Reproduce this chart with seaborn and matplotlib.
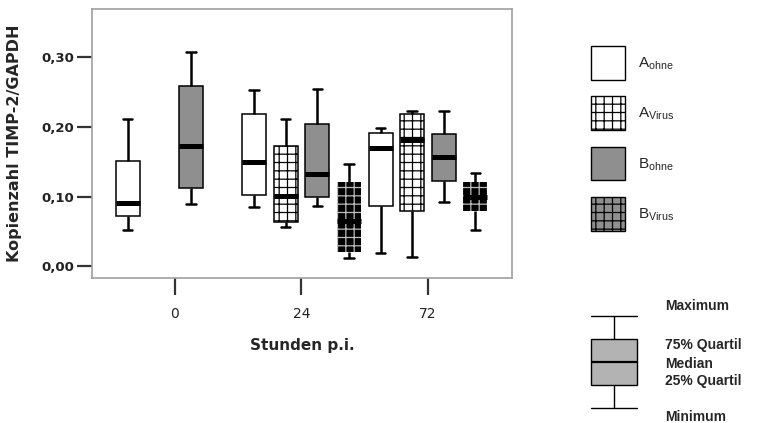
import numpy as np
import pandas as pd
import matplotlib.pyplot as plt
import seaborn as sns
from matplotlib.patches import Patch

# Werte je Box: Minimum, 25% Quartil, Median, 75% Quartil, Maximum
stunden = ['0', '24', '72']
gruppen = ['A_ohne', 'A_virus', 'B_ohne', 'B_virus']

a_ohne = {'0': [0.053, 0.072, 0.091, 0.151, 0.212],
          '24': [0.085, 0.102, 0.150, 0.218, 0.253],
          '72': [0.020, 0.086, 0.170, 0.191, 0.199]}
a_virus = {'24': [0.057, 0.064, 0.101, 0.172, 0.212],
           '72': [0.013, 0.080, 0.181, 0.219, 0.223]}
b_ohne = {'0': [0.090, 0.113, 0.173, 0.259, 0.308],
          '24': [0.087, 0.099, 0.133, 0.204, 0.254],
          '72': [0.093, 0.123, 0.157, 0.190, 0.223]}
b_virus = {'24': [0.012, 0.021, 0.065, 0.121, 0.147],
           '72': [0.052, 0.080, 0.100, 0.121, 0.134]}

y_ticks = [0.0, 0.1, 0.2, 0.3]
y_labels = ['0,00', '0,10', '0,20', '0,30']
legend_labels = [r'A$_{\mathregular{ohne}}$', r'A$_{\mathregular{Virus}}$',
                 r'B$_{\mathregular{ohne}}$', r'B$_{\mathregular{Virus}}$']
erklaerung = [0, 1, 2, 3, 4]
erklaerung_text = ['Maximum', '75% Quartil', 'Median', '25% Quartil', 'Minimum']

farben = {'A_ohne': 'white', 'A_virus': 'white', 'B_ohne': '#8f8f8f', 'B_virus': 'black'}

rows = []
for name, werte in zip(gruppen, [a_ohne, a_virus, b_ohne, b_virus]):
    for h, vals in werte.items():
        for v in vals:
            rows.append({'Stunden': h, 'Gruppe': name, 'Wert': v})
df = pd.DataFrame(rows)

sns.set_style('white')
plt.rcParams['font.family'] = ['DejaVu Sans']
plt.rcParams['hatch.linewidth'] = 0.9

fig = plt.figure(figsize=(7.6, 4.23), dpi=100)
W, H = 760, 423
ax = fig.add_axes([92 / W, 1 - 278 / H, 420 / W, 269 / H])

sns.boxplot(data=df, x='Stunden', y='Wert', hue='Gruppe', order=stunden,
            hue_order=gruppen, palette=farben, saturation=1, width=1.0, gap=0.24,
            whis=(0, 100), linecolor='black', linewidth=1.1, legend=False,
            showfliers=False, ax=ax, capwidths=0.075,
            medianprops=dict(linewidth=3.6, color='black'),
            whiskerprops=dict(linewidth=1.8), capprops=dict(linewidth=1.8))

for name, cont in zip(gruppen, ax.containers):
    for box in cont.boxes:
        if name == 'A_virus':
            box.set_hatch('++')
            box.set_edgecolor('black')
        elif name == 'B_virus':
            box.set_hatch('++')
            box.set_edgecolor('#bdbdbd')
            box.set_linewidth(0)

ax.set_xlim(-0.656, 2.664)
ax.set_ylim(-0.0165, 0.369)
ax.set_yticks(y_ticks)
ax.set_yticklabels(y_labels, fontsize=9.5, fontweight='bold', color='#222222')
ax.set_xticks(range(len(stunden)))
ax.set_xticklabels(stunden, fontsize=10, color='#222222')
ax.tick_params(axis='y', left=True, length=11, width=1.6, color='#333333', pad=2)
ax.tick_params(axis='x', bottom=True, length=12, width=1.6, color='#333333', pad=9)
for s in ax.spines.values():
    s.set_color('#a0a0a0')
    s.set_linewidth(1.2)
ax.set_xlabel('Stunden p.i.', fontsize=11, fontweight='bold', labelpad=12)
ax.set_ylabel('Kopienzahl TIMP-2/GAPDH', fontsize=11.5, fontweight='bold', labelpad=14)

# Legende rechts oben
handles = [Patch(facecolor='white', edgecolor='black', linewidth=1),
           Patch(facecolor='white', edgecolor='black', linewidth=1, hatch='++'),
           Patch(facecolor='#8f8f8f', edgecolor='black', linewidth=1),
           Patch(facecolor='#8f8f8f', edgecolor='black', linewidth=1, hatch='++')]
fig.legend(handles, legend_labels, loc='upper left',
           bbox_to_anchor=(591 / W, 1 - 46 / H), frameon=False, borderpad=0,
           borderaxespad=0, handlelength=2.23, handleheight=3.0,
           handletextpad=0.85, labelspacing=1.1,
           prop={'family': 'Liberation Sans', 'size': 11})

# Erklärungs-Boxplot unten rechts
ax2 = fig.add_axes([580 / W, 1 - 420 / H, 68 / W, 120 / H])
sns.boxplot(y=erklaerung, ax=ax2, color='#b3b3b3', saturation=1, width=0.676,
            whis=(0, 100), linecolor='black', linewidth=1.0, capwidths=0.676,
            medianprops=dict(linewidth=1.6, color='black'))
ax2.set_xlim(-0.5, 0.5)
ax2.set_ylim(-0.52, 4.7)
ax2.axis('off')

for txt, ypx in zip(erklaerung_text, [306, 345, 364, 381, 417]):
    fig.text(665 / W, 1 - ypx / H, txt, fontsize=10, fontweight='bold',
             family='Liberation Sans', va='center', ha='left')

fig.savefig('out.png', dpi=100)
